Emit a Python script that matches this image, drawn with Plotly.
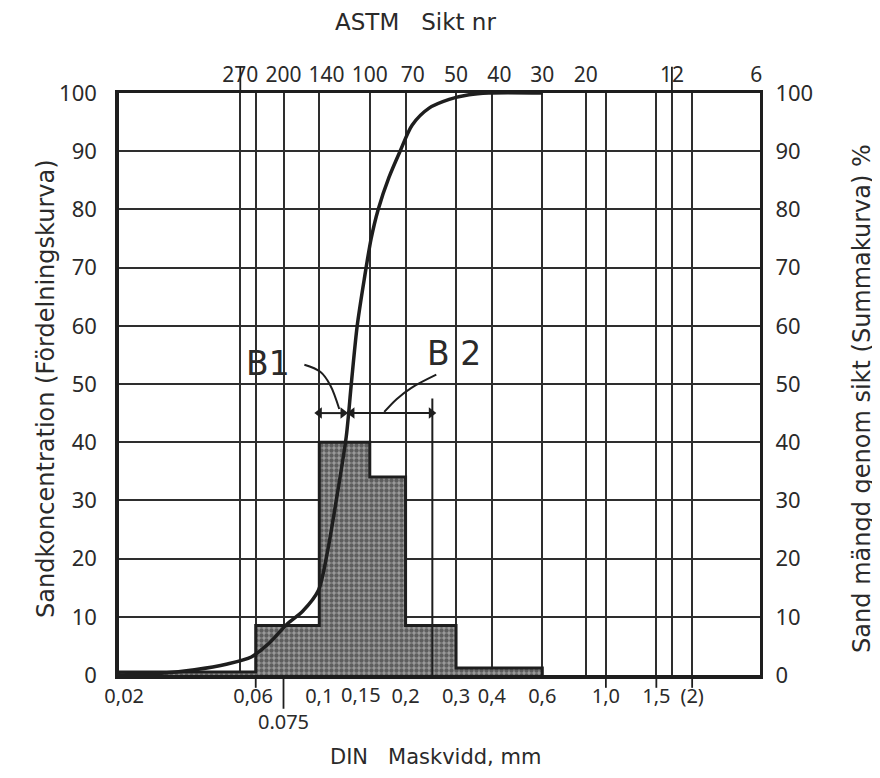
import numpy as np
import plotly.graph_objects as go

# ---------------- data ----------------
# bottom axis: DIN mesh width, mm
din_ticks = [0.02, 0.06, 0.075, 0.1, 0.15, 0.2, 0.3, 0.4, 0.6, 1.0, 1.5, 2.0]
din_labels = ["&nbsp;&nbsp;0,02", "0,06&nbsp;", "&nbsp;<br>0.075", "0,1", "",
              "0,2", "0,3", "0,4", "0,6", "1,0", "1,5", "(2)"]
# the 0,15 label is drawn a little left of its grid line, as in the original
label_015 = ("0,15", 0.14)
extra_grid = [0.053, 0.85, 1.7]
# top axis: ASTM sieve number
astm_ticks = [0.053, 0.075, 0.106, 0.15, 0.212, 0.3, 0.425, 0.6, 0.85, 1.7, 3.35]
astm_labels = ["270", "200", "140", "100", "70", "50", "40", "30", "20", "12", "6"]
x_min, x_max = 0.02, 3.45

# distribution (Fördelningskurva) – histogram
bin_edges = [0.02, 0.06, 0.1, 0.15, 0.2, 0.3, 0.6]
bin_heights = [0.5, 8.5, 40, 34, 8.5, 1.2]

# cumulative curve (Summakurva)
cum_size = [0.02, 0.0281, 0.0367, 0.0478, 0.0579, 0.0669, 0.0774, 0.0873, 0.0992,
            0.1066, 0.1146, 0.1242, 0.1293, 0.1356, 0.1435, 0.1517, 0.1605, 0.175,
            0.1914, 0.211, 0.2416, 0.284, 0.333, 0.39, 0.6]
cum_pct = [0, 0.3, 0.9, 1.9, 3.1, 5.5, 8.8, 10.9, 14.5,
           21, 30, 41, 50, 60, 68, 75, 80, 85.5,
           90, 94.5, 97.4, 98.9, 99.7, 100, 100]

# B1 / B2 dimension marks
b1_range = [0.1, 0.121]
b2_range = [0.130, 0.246]
dim_level = 45.0
b2_ext_x = 0.248
b2_ext_top = 47.5
b1_leader_x = [0.0887, 0.1008, 0.1092, 0.1174]
b1_leader_y = [53.3, 52.1, 49.8, 45.7]
b2_leader_x = [0.256, 0.209, 0.186, 0.1685]
b2_leader_y = [51.6, 49.3, 47.4, 45.2]
b1_label = (0.066, 53.5)
b2_label = (0.296, 55.3)

# tick marks extending outside the frame
top_long_ticks = [0.053, 1.7]
bottom_short_ticks = [0.06, 1.0, 1.5, 2.0]
bottom_long_ticks = [0.075]

INK = "#1e1e1e"
TXT = "#2a2a2a"
FONT = "Noto Sans"
TFONT = "DejaVu Sans"

# ---------------- figure ----------------
fig = go.Figure()

hist_x = [bin_edges[0]] + bin_edges + [bin_edges[-1]]
hist_y = [0] + bin_heights + [bin_heights[-1], 0]
fig.add_trace(go.Scatter(
    x=hist_x, y=hist_y, mode="lines", line=dict(color=INK, width=3, shape="hv"),
    fill="toself", fillcolor="#7a7a7a",
    fillpattern=dict(shape=".", bgcolor="#9c9c9c", fgcolor="#202020", size=5, solidity=0.6),
    hoverinfo="skip", showlegend=False))

fig.add_trace(go.Scatter(
    x=cum_size, y=cum_pct, mode="lines", yaxis="y2",
    line=dict(color=INK, width=3.5, shape="spline", smoothing=0.8),
    hoverinfo="skip", showlegend=False))

# B2 extension line
fig.add_trace(go.Scatter(x=[b2_ext_x, b2_ext_x], y=[0, b2_ext_top], mode="lines",
                         line=dict(color=INK, width=2), hoverinfo="skip", showlegend=False))
# dimension arrows
for rng in (b1_range, b2_range):
    fig.add_trace(go.Scatter(x=rng, y=[dim_level, dim_level], mode="lines+markers",
                             line=dict(color=INK, width=2),
                             marker=dict(symbol=["triangle-left", "triangle-right"], size=10, color=INK),
                             hoverinfo="skip", showlegend=False))
# leaders
for lx, ly in ((b1_leader_x, b1_leader_y), (b2_leader_x, b2_leader_y)):
    fig.add_trace(go.Scatter(x=lx, y=ly, mode="lines",
                             line=dict(color=INK, width=2, shape="spline"),
                             hoverinfo="skip", showlegend=False))
# anchor for the top axis
fig.add_trace(go.Scatter(x=[astm_ticks[0]], y=[0], xaxis="x2", mode="markers",
                         marker=dict(opacity=0), hoverinfo="skip", showlegend=False))

lr = [np.log10(x_min), np.log10(x_max)]
tickfont = dict(family=FONT, size=21, color=TXT)
btickfont = dict(family=FONT, size=20, color=TXT)
ytickfont = dict(family=FONT, size=22, color=TXT)

# page body adds an offset, margins compensate
fig.update_layout(
    width=880, height=778,
    margin=dict(l=111, r=128, t=85, b=111, autoexpand=False),
    paper_bgcolor="white", plot_bgcolor="white",
    showlegend=False,
    xaxis=dict(type="log", range=lr, tickmode="array", tickvals=din_ticks, ticktext=din_labels,
               tickangle=0, tickfont=btickfont, ticks="", showgrid=True, gridcolor="#2e2e2e",
               gridwidth=1.8, showline=True, linecolor=INK, linewidth=3.5, zeroline=False,
               automargin=False,
               minor=dict(tickmode="array", tickvals=extra_grid, showgrid=True,
                          gridcolor="#2e2e2e", gridwidth=1.8, ticks="")),
    xaxis2=dict(type="log", range=lr, overlaying="x", side="top", tickmode="array",
                tickvals=astm_ticks, ticktext=astm_labels, tickangle=0, tickfont=tickfont,
                ticks="", showgrid=False, showline=True, linecolor=INK, linewidth=3,
                zeroline=False, automargin=False),
    yaxis=dict(range=[0, 100], dtick=10, tickfont=ytickfont,
               ticks="", ticklabelstandoff=14, showgrid=True, gridcolor="#2e2e2e",
               gridwidth=1.8, showline=True, linecolor=INK, linewidth=3.5, zeroline=False,
               automargin=False),
    yaxis2=dict(range=[0, 100], dtick=10, overlaying="y", side="right",
                tickfont=ytickfont, ticks="",
                ticklabelstandoff=8, showgrid=False, showline=True, linecolor=INK,
                linewidth=3, zeroline=False, automargin=False),
)

shapes = []
for v in top_long_ticks:
    shapes.append(dict(type="line", xref="x", yref="paper", x0=v, x1=v, y0=1, y1=1.045,
                       line=dict(color=INK, width=1.8)))
for v in bottom_short_ticks:
    shapes.append(dict(type="line", xref="x", yref="paper", x0=v, x1=v, y0=0, y1=-0.022,
                       line=dict(color=INK, width=1.8)))
for v in bottom_long_ticks:
    shapes.append(dict(type="line", xref="x", yref="paper", x0=v, x1=v, y0=0, y1=-0.058,
                       line=dict(color=INK, width=1.8)))
fig.update_layout(shapes=shapes)

ann = [
    dict(text="ASTM&nbsp;&nbsp; Sikt nr", xref="paper", yref="paper", x=0.463, y=1.122,
         xanchor="center", yanchor="middle", showarrow=False,
         font=dict(family=TFONT, size=23, color=TXT)),
    dict(text="DIN&nbsp;&nbsp; Maskvidd, mm", xref="paper", yref="paper", x=0.494, y=-0.141,
         xanchor="center", yanchor="middle", showarrow=False,
         font=dict(family=TFONT, size=21, color=TXT)),
    dict(text="Sandkoncentration (Fördelningskurva)", xref="paper", yref="paper",
         x=-0.114, y=0.493, textangle=-90, xanchor="center", yanchor="middle",
         showarrow=False, font=dict(family=TFONT, size=24, color=TXT)),
    dict(text="Sand mängd genom sikt (Summakurva) %", xref="paper", yref="paper",
         x=1.159, y=0.476, textangle=-90, xanchor="center", yanchor="middle",
         showarrow=False, font=dict(family=TFONT, size=24, color=TXT)),
    dict(text="B1", xref="x", yref="y", x=np.log10(b1_label[0]), y=b1_label[1],
         showarrow=False, font=dict(family=TFONT, size=33, color=TXT)),
    dict(text="B 2", xref="x", yref="y", x=np.log10(b2_label[0]), y=b2_label[1],
         showarrow=False, font=dict(family=TFONT, size=33, color=TXT)),
    dict(text=label_015[0], xref="x", yref="paper", x=np.log10(label_015[1]), y=0,
         xanchor="center", yanchor="top", yshift=-4, showarrow=False, font=btickfont),
]
fig.update_layout(annotations=ann)

fig.write_html("out.html")
